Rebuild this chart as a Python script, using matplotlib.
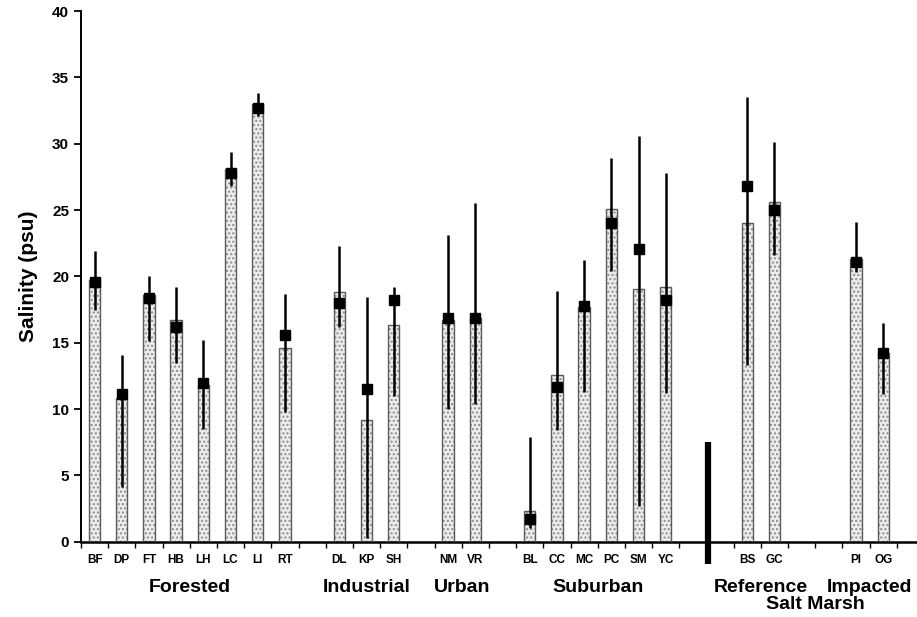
import numpy as np, matplotlib as mpl
mpl.use("Agg"); import matplotlib.pyplot as plt
from matplotlib.transforms import blended_transform_factory
mpl.rcParams.update({"font.family":["Liberation Sans","DejaVu Sans"],"font.weight":"bold",
                     "axes.labelweight":"bold"})

# slot position of every site (empty slots separate land-use groups)
sites=["BF","DP","FT","HB","LH","LC","LI","RT","DL","KP","SH","NM","VR",
       "BL","CC","MC","PC","SM","YC","BS","GC","PI","OG"]
slots=[0,1,2,3,4,5,6,7,9,10,11,13,14,16,17,18,19,20,21,24,25,28,29]
bar_val=[19.7,10.8,18.6,16.7,11.8,28.1,33.0,14.6,18.8,9.15,16.3,16.7,16.9,
         2.35,12.6,17.7,25.1,19.05,19.2,24.05,25.6,21.3,14.2]
marker_val=[19.6,11.1,18.4,16.2,12.0,27.8,32.7,15.6,18.0,11.5,18.2,16.9,16.9,
            1.75,11.7,17.8,24.0,22.1,18.2,26.85,25.0,21.1,14.2]
err_lo=[17.5,4.1,15.1,13.5,8.5,26.8,32.1,9.8,16.2,0.3,11.0,10.0,10.4,
        1.0,8.4,11.3,20.4,2.7,11.2,13.3,21.6,20.3,11.1]
err_hi=[21.9,14.1,20.0,19.2,15.2,29.4,33.8,18.7,22.3,18.45,19.2,23.1,25.5,
        7.9,18.9,21.2,28.9,30.6,27.8,33.5,30.1,24.1,16.5]
groups=["Forested","Industrial","Urban","Suburban","Reference","Impacted"]
group_pos=[3.5,10,13.5,18.5,24.5,28.5]

fig=plt.figure(figsize=(9.17,6.17),dpi=100)
ax=fig.add_axes([0.0883,0.122,0.9117,0.86])
x=np.array(slots)
ax.bar(x,bar_val,0.42,color="#ececec",edgecolor="#8c8c8c",hatch="....",lw=0,zorder=2)
ax.bar(x,bar_val,0.42,fill=False,edgecolor="#5a5a5a",lw=1.0,zorder=3)
ax.vlines(x,err_lo,err_hi,colors="black",lw=1.8,zorder=4)
ax.plot(x,marker_val,"s",color="black",ms=6.5,zorder=5)

# heavy separator between estuary sites and salt marsh sites
ax.plot([22.55,22.55],[-1.7,7.5],color="black",lw=4.5,solid_capstyle="butt",clip_on=False,zorder=6)

ax.set_xlim(-0.5,30.24); ax.set_ylim(0,40)
ax.set_yticks(range(0,41,5))
ax.tick_params(axis="y",labelsize=11,width=1.3,length=5,direction="out")
ax.set_xticks(x); ax.set_xticklabels(sites,fontsize=8.5)
ax.tick_params(axis="x",which="major",length=0,pad=9)
ax.set_xticks(np.arange(-0.5,30.3,1),minor=True)
ax.tick_params(axis="x",which="minor",length=4,width=1,direction="out")
for s in ["top","right"]: ax.spines[s].set_visible(False)
ax.spines["left"].set_linewidth(1.4); ax.spines["bottom"].set_linewidth(1.8)
ax.set_ylabel("Salinity (psu)",fontsize=15,labelpad=10)

tr=blended_transform_factory(ax.transData,ax.transAxes)
for g,p in zip(groups,group_pos):
    ax.text(p,-0.087,g,transform=tr,ha="center",va="center",fontsize=14)
ax.text(26.5,-0.118,"Salt Marsh",transform=tr,ha="center",va="center",fontsize=14)

fig.savefig("out.png",dpi=100)
